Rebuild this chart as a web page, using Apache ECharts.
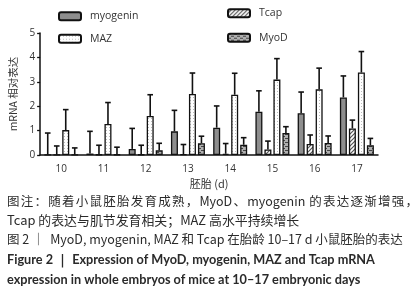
<!DOCTYPE html>
<html><head><meta charset="utf-8">
<script src="https://cdn.jsdelivr.net/npm/echarts@6/dist/echarts.min.js"></script>
<style>html,body{margin:0;padding:0;background:#fff}#c{width:419px;height:300px}</style>
</head><body><div id="c"></div>
<script>
const categories = ['10','11','12','13','14','15','16','17'];
const myogenin    = [0.01, 0.06, 0.25, 0.97, 1.12, 1.77, 1.71, 2.36];
const myogeninTop = [0.90, 0.97, 1.09, 1.83, 2.01, 2.63, 2.58, 3.24];
const tcap        = [0.01, 0.02, 0.02, 0.03, 0.05, 0.23, 0.45, 1.09];
const tcapTop     = [0.37, 0.40, 0.40, 0.43, 0.47, 0.57, 0.82, 1.43];
const maz         = [1.02, 1.27, 1.60, 2.50, 2.47, 3.09, 2.69, 3.38];
const mazTop      = [1.86, 2.15, 2.47, 3.36, 3.35, 3.95, 3.56, 4.24];
const myod        = [0.01, 0.02, 0.19, 0.48, 0.42, 0.90, 0.49, 0.40];
const myodTop     = [0.29, 0.32, 0.48, 0.77, 0.71, 1.16, 0.78, 0.68];
const yTicks = [0,1,2,3,4,5];
const captions = [
  '图注：随着小鼠胚胎发育成熟，MyoD、myogenin 的表达逐渐增强，',
  'Tcap 的表达与肌节发育相关；MAZ 高水平持续增长',
  '图 2 ｜  MyoD, myogenin, MAZ 和 Tcap 在胎龄 10–17 d 小鼠胚胎的表达',
  'Figure 2 ｜ Expression of MyoD, myogenin, MAZ and Tcap mRNA',
  'expression in whole embryos of mice at 10–17 embryonic days'
];

function pattern(kind){
  const c = document.createElement('canvas');
  const g = c.getContext('2d');
  if(kind==='hatch'){
    c.width=4;c.height=4;g.fillStyle='#fff';g.fillRect(0,0,4,4);
    g.strokeStyle='#555';g.lineWidth=1.2;
    g.beginPath();g.moveTo(0,4);g.lineTo(4,0);g.moveTo(-1,1);g.lineTo(1,-1);g.moveTo(3,5);g.lineTo(5,3);g.stroke();
  } else if(kind==='dots'){
    c.width=3;c.height=3;g.fillStyle='#fff';g.fillRect(0,0,3,3);
    g.fillStyle='#bbb';g.fillRect(1,1,1,1);
  } else if(kind==='brick'){
    c.width=6;c.height=4;g.fillStyle='#b0b0b0';g.fillRect(0,0,6,4);
    g.fillStyle='#444';g.fillRect(0,0,3,1);g.fillRect(3,2,3,1);
  }
  return {image:c, repeat:'repeat'};
}

const BW = 7, STEP = 9;
const seriesDefs = [
  {name:'myogenin', data:myogenin, top:myogeninTop, color:'#8e8e8e'},
  {name:'Tcap', data:tcap, top:tcapTop, color:pattern('hatch')},
  {name:'MAZ', data:maz, top:mazTop, color:pattern('dots')},
  {name:'MyoD', data:myod, top:myodTop, color:pattern('brick')}
];

const series = [];
seriesDefs.forEach((s,k)=>{
  series.push({
    name:s.name, type:'bar', data:s.data, barWidth:BW, barGap:((STEP-BW)/BW*100)+'%',
    itemStyle:{color:s.color, borderColor:'#111', borderWidth:1.3},
    z:3
  });
});
seriesDefs.forEach((s,k)=>{
  series.push({
    type:'custom', z:2, silent:true,
    data: s.data.map((v,i)=>[i, v, s.top[i]]),
    renderItem:(params, api)=>{
      const off = (k-1.5)*STEP;
      const p0 = api.coord([api.value(0), api.value(1)]);
      const p1 = api.coord([api.value(0), api.value(2)]);
      const x = p0[0]+off;
      return {type:'group', children:[
        {type:'line', shape:{x1:x,y1:p0[1],x2:x,y2:p1[1]}, style:{stroke:'#111',lineWidth:1.6}},
        {type:'line', shape:{x1:x-2.8,y1:p1[1],x2:x+2.8,y2:p1[1]}, style:{stroke:'#111',lineWidth:1.6}}
      ]};
    }
  });
});

// caption layout
const capY = [203, 222, 241, 261, 281];
const cjkFont = '12.5px "Noto Sans CJK SC", "Noto Sans", sans-serif';
const cjkFont2 = '12.9px "Noto Sans CJK SC", "Noto Sans", sans-serif';
const boldFont = 'bold 12.7px Lato, "Noto Sans", sans-serif';
const mc = document.createElement('canvas').getContext('2d');
const graphic = [];
// line 1: justified across the width
(function(){
  const t = captions[0];
  const tokens = t.match(/[A-Za-z]+ ?|./g);
  mc.font = cjkFont;
  const widths = tokens.map(s=>mc.measureText(s).width);
  const natural = widths.reduce((a,b)=>a+b,0);
  const target = 411;
  const gap = (target-natural)/(tokens.length-1);
  let x = 7;
  tokens.forEach((s,i)=>{
    graphic.push({type:'text', left:x, top:capY[0]-8, silent:true,
      style:{text:s, fill:'#2a2a2a', font:cjkFont}});
    x += widths[i]+gap;
  });
})();
captions.slice(1).forEach((t,j)=>{
  const i=j+1;
  graphic.push({type:'text', left:7, top:capY[i]-8, silent:true,
    style:{text:t, fill:'#2a2a2a', font:(i>=3?boldFont:(i===1?cjkFont2:cjkFont))}});
});

const chart = echarts.init(document.getElementById('c'), null, {renderer:'canvas'});
chart.setOption({
  animation:false,
  textStyle:{fontFamily:'"Open Sans","Noto Sans CJK SC",sans-serif'},
  grid:{left:37, right:41, top:33, bottom:145},
  legend:[
    {data:['myogenin','MAZ'], orient:'vertical', left:53, top:6, itemWidth:22, itemHeight:8, itemGap:12,
     textStyle:{fontSize:10.5,color:'#333',padding:[0,0,0,4]}},
    {data:['Tcap','MyoD'], orient:'vertical', left:222, top:3, itemWidth:22, itemHeight:8, itemGap:14,
     textStyle:{fontSize:10.5,color:'#333',padding:[0,0,0,4]}}
  ],
  xAxis:{type:'category', data:categories,
    name:'胚胎 (d)', nameLocation:'middle', nameGap:23,
    nameTextStyle:{fontSize:11,color:'#333',fontFamily:'"Noto Sans CJK SC",sans-serif'},
    axisLine:{lineStyle:{color:'#111',width:1.5}},
    axisTick:{alignWithLabel:true,length:3,lineStyle:{color:'#111',width:1.3}},
    axisLabel:{fontSize:10,color:'#333',margin:9}},
  yAxis:{type:'value', min:0, max:5, interval:1,
    name:'mRNA 相对表达', nameLocation:'middle', nameGap:18,
    nameTextStyle:{fontSize:10.5,color:'#333',fontFamily:'"Noto Sans CJK SC",sans-serif'},
    axisLine:{show:true,lineStyle:{color:'#111',width:1.5}},
    axisTick:{show:true,length:3,lineStyle:{color:'#111',width:1.3}},
    splitLine:{show:false},
    axisLabel:{fontSize:10,color:'#333',margin:5,
      formatter:v=>yTicks.includes(v)?String(v):''}},
  series:series,
  graphic:graphic
});
</script></body></html>
